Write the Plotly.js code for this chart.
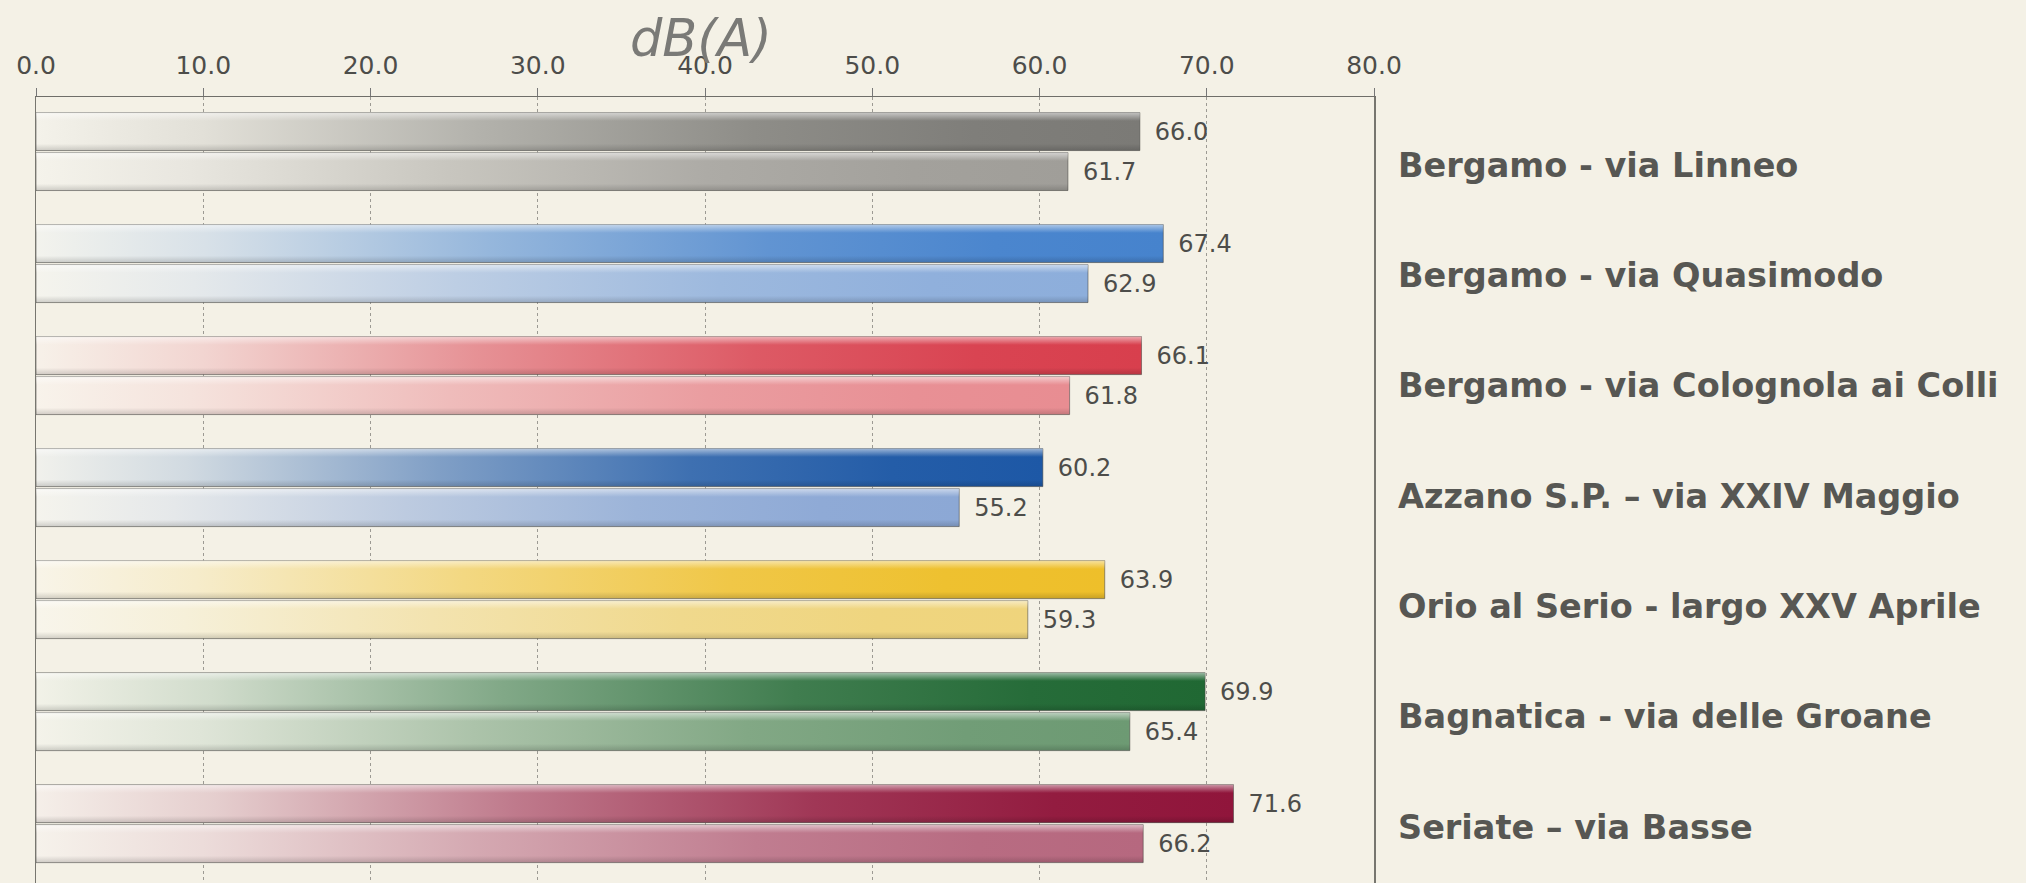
<!DOCTYPE html>
<html>
<head>
<meta charset="utf-8">
<script src="https://cdn.plot.ly/plotly-3.0.1.min.js"></script>
<style>
  html, body { margin: 0; padding: 0; background: #f4f1e6; }
  #chart { width: 2026px; height: 883px; }
</style>
</head>
<body>
<div id="chart"></div>
<script>
// ---- data ----
const sites = [
  "Bergamo - via Linneo",
  "Bergamo - via Quasimodo",
  "Bergamo - via Colognola ai Colli",
  "Azzano S.P. \u2013 via XXIV Maggio",
  "Orio al Serio - largo XXV Aprile",
  "Bagnatica - via delle Groane",
  "Seriate \u2013 via Basse"
];
const serie1Values = [66.0, 67.4, 66.1, 60.2, 63.9, 69.9, 71.6];
const serie2Values = [61.7, 62.9, 61.8, 55.2, 59.3, 65.4, 66.2];
const serie1Colors = ["#7b7a76", "#4683cd", "#d83f4d", "#1d58a6", "#eebf2a", "#206833", "#90153b"];
const serie2Colors = ["#a09e99", "#8daedb", "#e88d92", "#8ca8d5", "#efd47c", "#6d9a73", "#b6687f"];
const xTickValues = [0, 10, 20, 30, 40, 50, 60, 70, 80];
const axisTitle = "dB(A)";

const FONT = "DejaVu Sans, Verdana, sans-serif";
const BG = "#f4f1e6";

const traces = [
  {
    type: "bar", orientation: "h", name: "Serie 1",
    y: sites, x: serie1Values,
    marker: { color: serie1Colors, line: { color: "rgba(70,70,65,0.55)", width: 1 } },
    texttemplate: "\u2002%{x:.1f}", textposition: "outside",
    outsidetextfont: { family: FONT, size: 24, color: "#4d4d4a" },
    constraintext: "none", cliponaxis: false, hoverinfo: "skip"
  },
  {
    type: "bar", orientation: "h", name: "Serie 2",
    y: sites, x: serie2Values,
    marker: { color: serie2Colors, line: { color: "rgba(70,70,65,0.55)", width: 1 } },
    texttemplate: "\u2002%{x:.1f}", textposition: "outside",
    outsidetextfont: { family: FONT, size: 24, color: "#4d4d4a" },
    constraintext: "none", cliponaxis: false, hoverinfo: "skip"
  }
];

const labelAnnotations = sites.map((s, i) => ({
  xref: "x", yref: "y", x: 80, y: s,
  xanchor: "left", yanchor: "middle",
  xshift: 22, yshift: -(13.5 - i * 10 / 6),
  text: s, showarrow: false,
  font: { family: FONT, size: 33.5, color: "#575753", weight: "bold" }
}));

const layout = {
  width: 2026, height: 883,
  paper_bgcolor: BG, plot_bgcolor: BG,
  margin: { l: 36, r: 652, t: 97, b: 0 },
  barmode: "group", bargap: 0.286, bargroupgap: 0.05,
  showlegend: false,
  title: {
    text: axisTitle,
    font: { family: FONT, size: 51, color: "#7a7a77", style: "italic" },
    xref: "paper", x: 0.497, xanchor: "center",
    yref: "container", y: 0.957, yanchor: "middle"
  },
  xaxis: {
    side: "top", range: [0, 80], tickvals: xTickValues, tickformat: ".1f",
    ticks: "outside", ticklen: 8, tickcolor: "#777", tickwidth: 1,
    ticklabelstandoff: 4,
    tickfont: { family: FONT, size: 25, color: "#4d4d4a" },
    showgrid: true, gridcolor: "#9c9a93", griddash: "dot", gridwidth: 1,
    showline: true, linecolor: "#6f6e69", linewidth: 1.5,
    zeroline: false, fixedrange: true
  },
  yaxis: {
    type: "category", range: [6.53, -0.487],
    showticklabels: false, ticks: "",
    showgrid: false, zeroline: false,
    showline: true, mirror: true, linecolor: "#77766f", linewidth: 1.5,
    fixedrange: true
  },
  annotations: labelAnnotations
};

function hexToRgb(h) {
  h = h.replace("#", "");
  return [parseInt(h.slice(0, 2), 16), parseInt(h.slice(2, 4), 16), parseInt(h.slice(4, 6), 16)];
}
function mix(c, t) {
  const a = hexToRgb("#f8f6ee"), b = hexToRgb(c);
  return "rgb(" + a.map((v, k) => Math.round(v + (b[k] - v) * t)).join(",") + ")";
}

const gd = document.getElementById("chart");
Plotly.newPlot(gd, traces, layout, { displayModeBar: false, staticPlot: true }).then(() => {
  const NS = "http://www.w3.org/2000/svg";
  const svg = gd.querySelector("svg.main-svg");
  let defs = svg.querySelector("defs");
  if (!defs) { defs = document.createElementNS(NS, "defs"); svg.insertBefore(defs, svg.firstChild); }
  // vertical bevel overlay
  const hl = document.createElementNS(NS, "linearGradient");
  hl.setAttribute("id", "bevel"); hl.setAttribute("x1", "0"); hl.setAttribute("y1", "0");
  hl.setAttribute("x2", "0"); hl.setAttribute("y2", "1");
  [[0, "#ffffff", 0.55], [0.1, "#ffffff", 0.3], [0.22, "#ffffff", 0.0], [0.82, "#000000", 0.0], [1, "#000000", 0.16]]
    .forEach(([o, c, op]) => {
      const s = document.createElementNS(NS, "stop");
      s.setAttribute("offset", o); s.setAttribute("stop-color", c); s.setAttribute("stop-opacity", op);
      hl.appendChild(s);
    });
  defs.appendChild(hl);
  const palettes = [serie1Colors, serie2Colors];
  gd.querySelectorAll(".barlayer .trace").forEach((tr, ti) => {
    tr.querySelectorAll(".point").forEach((pt, pi) => {
      const p = pt.querySelector("path");
      if (!p) return;
      const col = palettes[ti][pi];
      const g = document.createElementNS(NS, "linearGradient");
      const id = "grad_" + ti + "_" + pi;
      g.setAttribute("id", id); g.setAttribute("x1", "0"); g.setAttribute("y1", "0");
      g.setAttribute("x2", "1"); g.setAttribute("y2", "0");
      [[0, 0.03], [0.15, 0.18], [0.4, 0.55], [0.65, 0.85], [0.85, 0.97], [1, 1]].forEach(([o, t]) => {
        const s = document.createElementNS(NS, "stop");
        s.setAttribute("offset", o); s.setAttribute("stop-color", mix(col, t));
        g.appendChild(s);
      });
      defs.appendChild(g);
      p.style.fill = "url(#" + id + ")";
      const ov = p.cloneNode(false);
      ov.style.fill = "url(#bevel)";
      ov.style.stroke = "none";
      ov.style.fillOpacity = 1;
      p.parentNode.insertBefore(ov, p.nextSibling);
    });
  });
});
</script>
</body>
</html>
